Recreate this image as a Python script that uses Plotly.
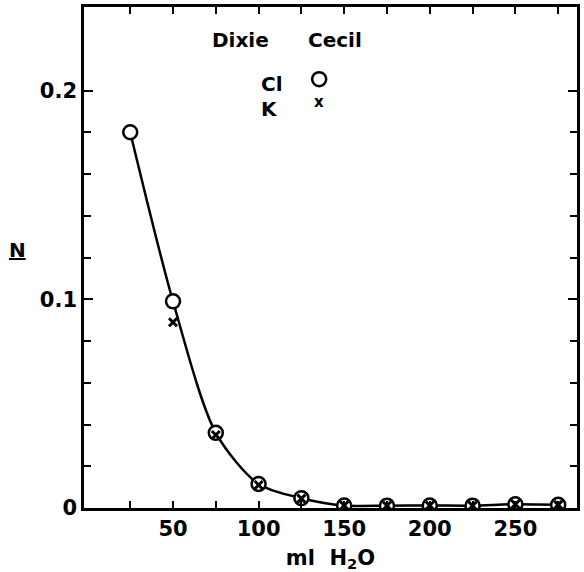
import plotly.graph_objects as go

# Data
ml_h2o = [25, 50, 75, 100, 125, 150, 175, 200, 225, 250, 275]
cl_dixie_cecil = [0.180, 0.099, 0.036, 0.0115, 0.0047, 0.0012, 0.0011, 0.0012, 0.0011, 0.0018, 0.0015]
k_x = [50, 75, 100, 125, 150, 175, 200, 225, 250, 275]
k_dixie_cecil = [0.089, 0.035, 0.011, 0.0045, 0.0012, 0.0011, 0.0012, 0.0011, 0.0018, 0.0015]

x_tick_vals = [50, 100, 150, 200, 250]
x_minor_vals = [25, 75, 125, 175, 225, 275]
y_tick_vals = [0, 0.1, 0.2]
y_tick_text = ["0", "0.1", "0.2"]
y_minor_vals = [0.02, 0.04, 0.06, 0.08, 0.12, 0.14, 0.16, 0.18]

FONT = "DejaVu Sans"

fig = go.Figure()

# smooth curve
fig.add_trace(go.Scatter(
    x=ml_h2o, y=cl_dixie_cecil, mode="lines",
    line=dict(color="black", width=2.5, shape="spline", smoothing=0.8),
    showlegend=False, hoverinfo="skip"))

# Cl circles
fig.add_trace(go.Scatter(
    x=ml_h2o, y=cl_dixie_cecil, mode="markers", name="Cl",
    marker=dict(symbol="circle", size=14, color="white",
                line=dict(color="black", width=2.5)),
    showlegend=False))

# K crosses
fig.add_trace(go.Scatter(
    x=k_x, y=k_dixie_cecil, mode="markers", name="K",
    marker=dict(symbol="x-thin", size=8,
                line=dict(color="black", width=3)),
    showlegend=False))

fig.update_layout(
    width=584, height=572,
    margin=dict(l=84, r=5, t=4, b=61),
    paper_bgcolor="white", plot_bgcolor="white",
    font=dict(family=FONT, color="black", size=21, weight="bold"),
    xaxis=dict(
        range=[-2, 286], showgrid=False, zeroline=False,
        showline=True, linecolor="black", linewidth=2.5, mirror="ticks",
        ticks="inside", ticklen=7, tickwidth=1.5, tickcolor="black",
        tickvals=x_tick_vals,
        minor=dict(tickvals=x_minor_vals, ticks="inside", ticklen=7,
                   tickwidth=1.5, tickcolor="black"),
        tickfont=dict(family=FONT, size=21, weight="bold"),
        title=dict(text="ml  H<sub>2</sub>O",
                   font=dict(family=FONT, size=21, weight="bold"),
                   standoff=12),
    ),
    yaxis=dict(
        range=[0, 0.24], showgrid=False, zeroline=False,
        showline=True, linecolor="black", linewidth=2.5, mirror="ticks",
        ticks="inside", ticklen=9, tickwidth=1.5, tickcolor="black",
        tickvals=y_tick_vals, ticktext=y_tick_text,
        minor=dict(tickvals=y_minor_vals, ticks="inside", ticklen=7,
                   tickwidth=1.5, tickcolor="black"),
        tickfont=dict(family=FONT, size=21, weight="bold"),
    ),
)

annots = [
    dict(text="Dixie", x=0.317, y=0.935),
    dict(text="Cecil", x=0.510, y=0.935),
    dict(text="Cl", x=0.382, y=0.847),
    dict(text="K", x=0.376, y=0.797),
    dict(text="x", x=0.477, y=0.810, size=15),
    dict(text="<u>N</u>", x=-0.135, y=0.515),
]
for a in annots:
    fig.add_annotation(
        text=a["text"], x=a["x"], y=a["y"], xref="paper", yref="paper",
        showarrow=False, xanchor="center", yanchor="middle",
        font=dict(family=FONT, size=a.get("size", 20), color="black",
                  weight="bold"))

# legend circle
fig.add_shape(type="circle", xref="paper", yref="paper",
              xsizemode="pixel", ysizemode="pixel",
              xanchor=0.477, yanchor=0.856,
              x0=-7, x1=7, y0=-7, y1=7,
              line=dict(color="black", width=2.5), fillcolor="white")

fig.write_html("out.html",
               config={"displayModeBar": False},
               post_script="document.body.style.margin='0';"
                           "document.body.style.padding='0';")
